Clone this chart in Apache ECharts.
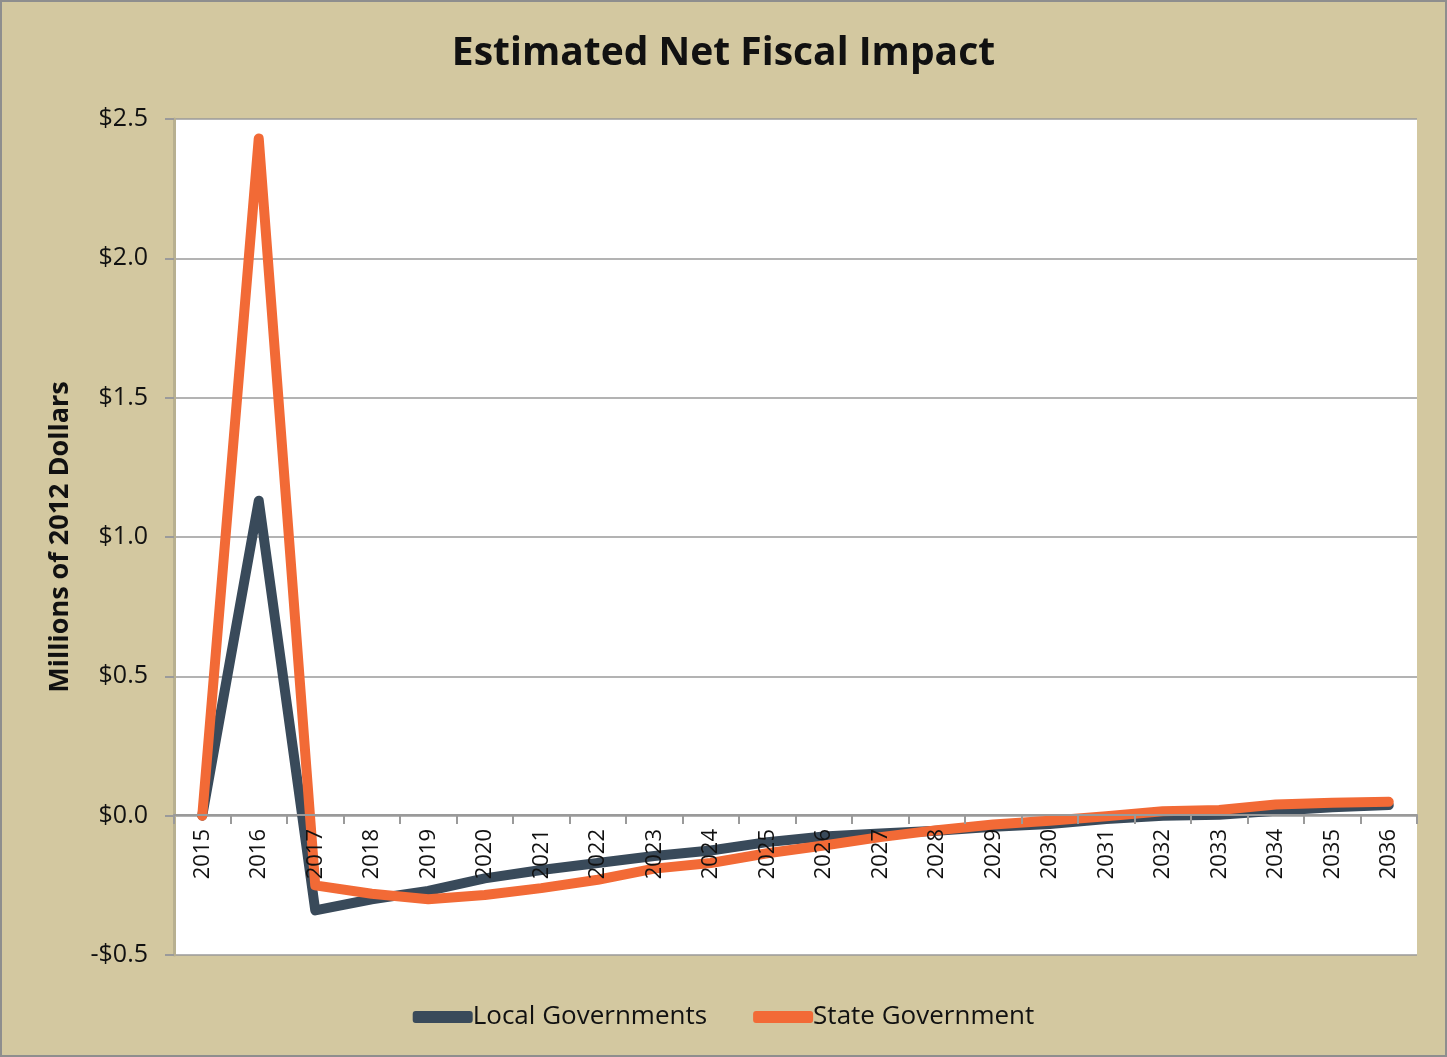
<!DOCTYPE html>
<html>
<head>
<meta charset="utf-8">
<script src="https://cdn.jsdelivr.net/npm/echarts@6/dist/echarts.min.js"></script>
<style>
html,body{margin:0;padding:0;background:#d3c8a0;}
#chart{width:1447px;height:1057px;box-sizing:border-box;border:2px solid #8e8e8e;}
</style>
</head>
<body>
<div id="chart"></div>
<script>
const years = ['2015','2016','2017','2018','2019','2020','2021','2022','2023','2024','2025','2026','2027','2028','2029','2030','2031','2032','2033','2034','2035','2036'];
const localGov = [0, 1.13, -0.34, -0.30, -0.27, -0.225, -0.195, -0.17, -0.145, -0.125, -0.095, -0.075, -0.064, -0.054, -0.04, -0.03, -0.012, 0.0, 0.003, 0.018, 0.03, 0.038];
const stateGov = [0, 2.43, -0.25, -0.28, -0.30, -0.285, -0.26, -0.23, -0.19, -0.17, -0.135, -0.107, -0.077, -0.052, -0.032, -0.018, -0.002, 0.016, 0.02, 0.04, 0.046, 0.05];
const yTicks = {min: -0.5, max: 2.5, interval: 0.5};

const gridTop = 117, gridBottom = 100, chartH = 1057;
const plotH = chartH - gridTop - gridBottom;
const zeroOffset = -plotH * (0 - yTicks.min) / (yTicks.max - yTicks.min);

const chart = echarts.init(document.getElementById('chart'));
const fam = '"Open Sans", Lato, sans-serif';
chart.setOption({
  backgroundColor: '#d3c8a0',
  animation: false,
  title: {
    text: 'Estimated Net Fiscal Impact',
    left: 'center', top: 27,
    textStyle: {fontFamily: fam, fontSize: 39, fontWeight: 'bold', color: '#111'}
  },
  legend: {
    bottom: 20, left: 'center',
    itemWidth: 60, itemHeight: 12, itemGap: 46,
    icon: 'roundRect',
    textStyle: {fontFamily: fam, fontSize: 26, color: '#111', padding: [0,0,0,-5]},
    data: ['Local Governments', 'State Government']
  },
  grid: {left: 172, right: 28, top: gridTop, bottom: gridBottom, show: true, backgroundColor: '#ffffff', borderWidth: 0},
  xAxis: {
    type: 'category', data: years, boundaryGap: true, position: 'bottom', offset: zeroOffset, z: 5,
    axisLine: {onZero: false, lineStyle: {color: '#9a9a9a', width: 2}},
    axisTick: {show: true, interval: 0, length: 9, lineStyle: {color: '#9a9a9a', width: 2}},
    axisLabel: {rotate: 90, interval: 0, fontFamily: fam, fontSize: 22, color: '#111', margin: 14}
  },
  yAxis: {
    type: 'value', min: yTicks.min, max: yTicks.max, interval: yTicks.interval,
    name: 'Millions of 2012 Dollars', nameLocation: 'middle', nameGap: 100, nameRotate: 90,
    nameTextStyle: {fontFamily: fam, fontSize: 27, fontWeight: 'bold', color: '#111'},
    axisLine: {show: true, lineStyle: {color: '#b8b090', width: 3}},
    axisTick: {show: true, length: 9, lineStyle: {color: '#9a9a9a', width: 2}},
    splitLine: {lineStyle: {color: '#9a9a9a', width: 1.5}},
    axisLabel: {fontFamily: fam, fontSize: 25, color: '#111', margin: 26,
      formatter: v => (v < 0 ? '-$' + Math.abs(v).toFixed(1) : '$' + v.toFixed(1))}
  },
  series: [
    {name: 'Local Governments', type: 'line', data: localGov, showSymbol: false, symbol: 'none', z: 2,
     itemStyle: {color: '#394a5a'},
     lineStyle: {color: '#394a5a', width: 10, cap: 'round', join: 'round'}},
    {name: 'State Government', type: 'line', data: stateGov, showSymbol: false, symbol: 'none', z: 2,
     itemStyle: {color: '#f26a36'},
     lineStyle: {color: '#f26a36', width: 10, cap: 'round', join: 'round'}}
  ]
});
</script>
</body>
</html>
